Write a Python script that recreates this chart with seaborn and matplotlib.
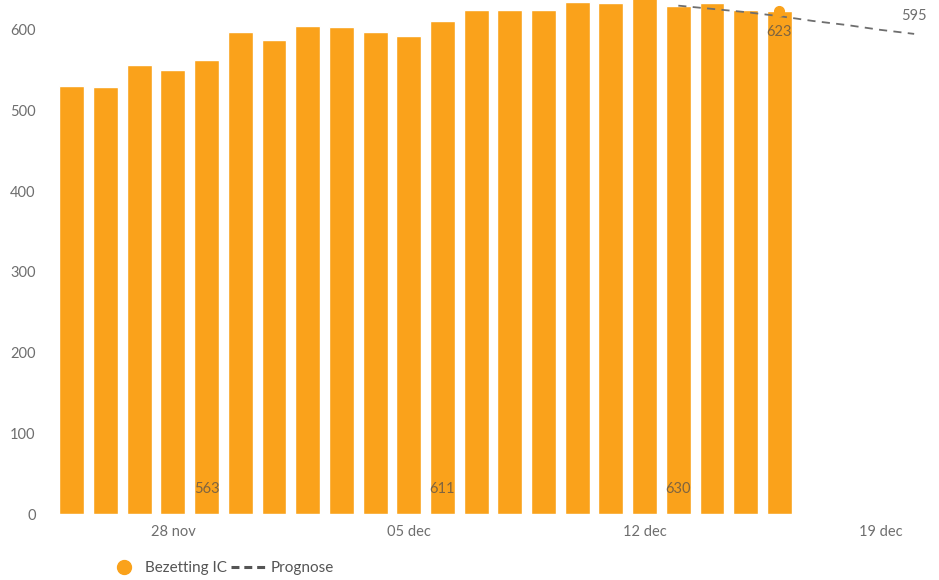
import matplotlib
matplotlib.use("Agg")
import matplotlib.pyplot as plt
from matplotlib.lines import Line2D
import numpy as np
import pandas as pd
import seaborn as sns

# --- data ------------------------------------------------------------------
dates = [
    "2021-11-25", "2021-11-26", "2021-11-27", "2021-11-28", "2021-11-29",
    "2021-11-30", "2021-12-01", "2021-12-02", "2021-12-03", "2021-12-04",
    "2021-12-05", "2021-12-06", "2021-12-07", "2021-12-08", "2021-12-09",
    "2021-12-10", "2021-12-11", "2021-12-12", "2021-12-13", "2021-12-14",
    "2021-12-15", "2021-12-16",
]
bezetting = [530, 529, 557, 550, 563, 597, 587, 605, 603, 597, 593,
             611, 624, 625, 625, 634, 633, 640, 630, 633, 625, 623]

prog_dates = ["2021-12-13", "2021-12-14", "2021-12-15", "2021-12-16",
              "2021-12-17", "2021-12-18", "2021-12-19", "2021-12-20"]
prognose = [630, 626, 622, 617, 611, 606, 600, 595]

labelled_dates = ["2021-11-29", "2021-12-06", "2021-12-13"]
tick_dates = ["2021-11-28", "2021-12-05", "2021-12-12", "2021-12-19"]
tick_labels = ["28 nov", "05 dec", "12 dec", "19 dec"]
yticks = [0, 100, 200, 300, 400, 500, 600]

ORANGE = "#FAA21B"
GREY = "#6E6E6E"
LABEL = "#7E6440"

start = pd.Timestamp(dates[0])


def day_no(ds):
    return [(pd.Timestamp(d) - start).days for d in ds]


df = pd.DataFrame({"day": day_no(dates), "value": bezetting})
prog = pd.DataFrame({"day": day_no(prog_dates), "value": prognose})

sns.set_theme(style="white")
plt.rcParams["font.family"] = ["Lato", "DejaVu Sans"]

fig = plt.figure(figsize=(9.39, 5.8), dpi=100)
ax = fig.add_axes([55 / 939, 1 - 514 / 580, 876 / 939, 514 / 580])

sns.barplot(data=df, x="day", y="value", native_scale=True, width=0.74,
            color=ORANGE, saturation=1, ax=ax)
sns.lineplot(data=prog, x="day", y="value", ax=ax, color=GREY, lw=1.3)
ax.lines[-1].set_dashes((4.5, 3.5))

# last observed point
last_day, last_val = df["day"].iloc[-1], df["value"].iloc[-1]
ax.plot([last_day], [last_val], "o", color=ORANGE, ms=7, zorder=4)
ax.text(last_day, last_val - 17, f"{last_val}", ha="center", va="top",
        fontsize=10.5, color=LABEL)

# weekly labels at the base of the bars
for d in day_no(labelled_dates):
    v = df.loc[df["day"] == d, "value"].iloc[0]
    ax.text(d, 22, f"{v}", ha="center", va="bottom", fontsize=10.5,
            color=LABEL)

# end of forecast
ax.text(prog["day"].iloc[-1], prog["value"].iloc[-1] + 14, f"{prognose[-1]}",
        ha="center", va="bottom", fontsize=10.5, color=GREY)

ax.set_xlim(-0.5, 25.5)
ax.set_ylim(0, 637)
ax.set_xticks(day_no(tick_dates))
ax.set_xticklabels(tick_labels)
ax.set_yticks(yticks)
ax.tick_params(axis="both", length=0, labelsize=10.5, labelcolor=GREY)
ax.tick_params(axis="y", pad=14)
ax.tick_params(axis="x", pad=8)
ax.set_xlabel("")
ax.set_ylabel("")
sns.despine(ax=ax, left=True, bottom=True)

handles = [
    Line2D([], [], marker="o", ls="", color=ORANGE, ms=10),
    Line2D([], [], ls="--", color="#555555", lw=2.2, dashes=(2.6, 1.6)),
]
fig.legend(handles, ["Bezetting IC", "Prognose"], loc="center left",
           bbox_to_anchor=(92 / 939, 1 - 568 / 580), ncol=2, frameon=False,
           fontsize=11, labelcolor="#555555", handletextpad=0.15,
           columnspacing=0.3, handlelength=2.4)

fig.savefig("out.png", dpi=100)
